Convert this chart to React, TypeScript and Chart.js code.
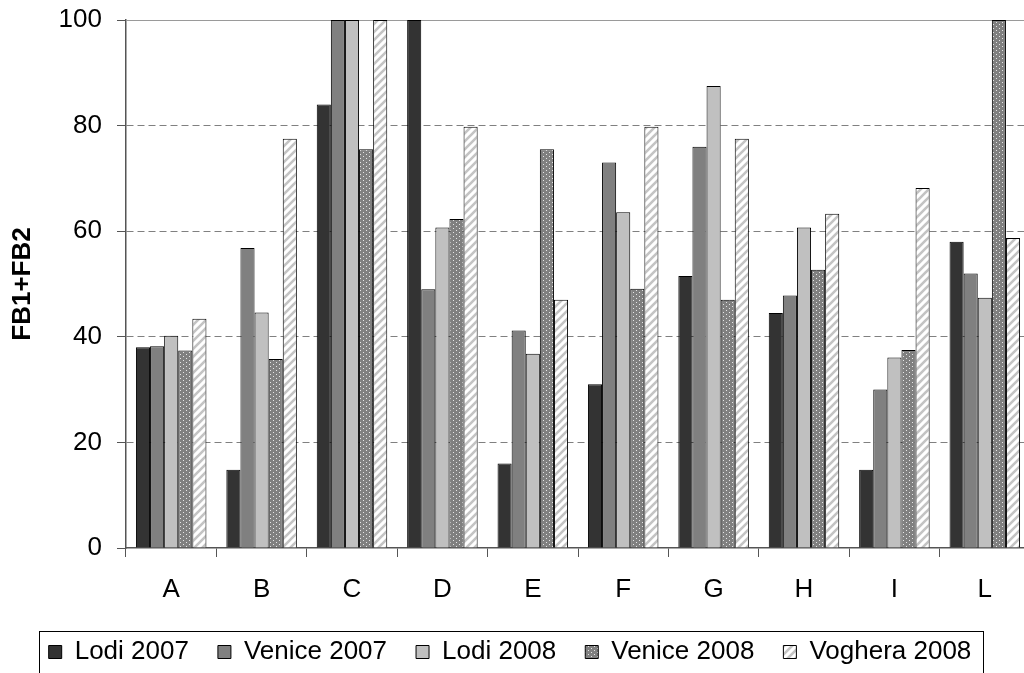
import React, { useEffect, useRef } from "react";
import { Chart, registerables } from "chart.js";

Chart.register(...registerables);

const categories = ["A", "B", "C", "D", "E", "F", "G", "H", "I", "L"];
const lodi2007 = [38, 14.8, 84, 100, 16, 31, 51.5, 44.5, 14.8, 58];
const venice2007 = [38.2, 56.8, 100, 49, 41.2, 73, 76, 47.8, 30, 52];
const lodi2008 = [40.2, 44.6, 100, 60.7, 36.8, 63.6, 87.5, 60.7, 36.1, 47.4];
const venice2008 = [37.4, 35.8, 75.5, 62.3, 75.5, 49.1, 47, 52.7, 37.5, 100];
const voghera2008 = [43.4, 77.5, 100, 79.8, 47, 79.8, 77.5, 63.3, 68.2, 58.7];
const seriesNames = ["Lodi 2007", "Venice 2007", "Lodi 2008", "Venice 2008", "Voghera 2008"];
const yMin = 0;
const yMax = 100;
const yStep = 20;
const yTitle = "FB1+FB2";

const FONT = "'Liberation Sans', Arial, sans-serif";

function dotPattern(ctx: CanvasRenderingContext2D) {
  const c = document.createElement("canvas");
  c.width = 6;
  c.height = 4;
  const g = c.getContext("2d")!;
  g.fillStyle = "#808080";
  g.fillRect(0, 0, 6, 4);
  g.fillStyle = "#e6e6e6";
  g.fillRect(1, 0, 1, 1);
  g.fillRect(4, 2, 1, 1);
  return ctx.createPattern(c, "repeat")!;
}

function hatchPattern(ctx: CanvasRenderingContext2D) {
  const c = document.createElement("canvas");
  c.width = 8;
  c.height = 8;
  const g = c.getContext("2d")!;
  g.fillStyle = "#ffffff";
  g.fillRect(0, 0, 8, 8);
  g.strokeStyle = "#c4c4c4";
  g.lineWidth = 2.6;
  g.beginPath();
  g.moveTo(-2, 10);
  g.lineTo(10, -2);
  g.moveTo(-6, 6);
  g.lineTo(6, -6);
  g.moveTo(2, 14);
  g.lineTo(14, 2);
  g.stroke();
  return ctx.createPattern(c, "repeat")!;
}

const legendBorder = {
  id: "legendBorder",
  afterDraw(chart: any) {
    const lg = chart.legend;
    if (!lg || !lg.legendHitBoxes || !lg.legendHitBoxes.length) return;
    const hb = lg.legendHitBoxes;
    const first = hb[0];
    const last = hb[hb.length - 1];
    const ctx = chart.ctx;
    const left = Math.round(first.left - 10) + 0.5;
    const right = Math.round(last.left + last.width + 12) + 0.5;
    const top = Math.round(first.top - 8) + 0.5;
    ctx.save();
    ctx.strokeStyle = "#000000";
    ctx.lineWidth = 1;
    ctx.strokeRect(left, top, right - left, 60);
    ctx.restore();
  },
};

const topLine = {
  id: "topLine",
  beforeDatasetsDraw(chart: any) {
    const { ctx, chartArea } = chart;
    ctx.save();
    ctx.strokeStyle = "#9a9a9a";
    ctx.lineWidth = 1;
    ctx.beginPath();
    ctx.moveTo(chartArea.left, Math.round(chartArea.top) + 0.5);
    ctx.lineTo(chartArea.right, Math.round(chartArea.top) + 0.5);
    ctx.stroke();
    ctx.restore();
  },
};

export default function App() {
  const ref = useRef<HTMLCanvasElement>(null);

  useEffect(() => {
    const canvas = ref.current!;
    const ctx = canvas.getContext("2d")!;
    const fills = ["#333333", "#808080", "#c0c0c0", dotPattern(ctx), hatchPattern(ctx)];
    const values = [lodi2007, venice2007, lodi2008, venice2008, voghera2008];

    const chart = new Chart(canvas, {
      type: "bar",
      data: {
        labels: categories,
        datasets: values.map((v, i) => ({
          label: seriesNames[i],
          data: v,
          backgroundColor: fills[i] as any,
          borderColor: "#000000",
          borderWidth: 1,
          categoryPercentage: 0.78,
          barPercentage: 1,
        })),
      },
      options: {
        responsive: false,
        animation: false,
        devicePixelRatio: 1,
        layout: { padding: { top: 20, right: 10, bottom: 0, left: 0 } },
        plugins: {
          tooltip: { enabled: false },
          legend: {
            position: "bottom",
            labels: {
              font: { family: FONT, size: 26 },
              color: "#000000",
              boxWidth: 13,
              boxHeight: 13,
              padding: 29,
            },
          },
        },
        scales: {
          x: {
            afterFit(scale: any) {
              scale.height = 62;
              scale.paddingLeft = 0;
              scale.paddingRight = 0;
            },
            grid: {
              offset: true,
              drawOnChartArea: false,
              drawTicks: true,
              tickLength: 9,
              tickColor: "#555555",
              tickWidth: 1,
            },
            border: { color: "#555555", width: 1.5 },
            ticks: {
              font: { family: FONT, size: 26 },
              color: "#000000",
              padding: 17,
              maxRotation: 0,
              autoSkip: false,
            },
          },
          y: {
            min: yMin,
            max: yMax,
            afterFit(scale: any) {
              scale.width = 136;
              scale.paddingTop = 0;
              scale.paddingBottom = 0;
            },
            grid: {
              color: (c: any) =>
                c.tick && (c.tick.value === yMin || c.tick.value === yMax) ? "rgba(0,0,0,0)" : "#808080",
              lineWidth: 1,
              tickLength: 9,
              tickColor: "#555555",
              tickWidth: 1,
            },
            border: { color: "#555555", width: 1.5, dash: [7, 4] },
            ticks: {
              stepSize: yStep,
              font: { family: FONT, size: 26 },
              color: "#000000",
              padding: 15,
            },
            title: {
              display: true,
              text: yTitle,
              font: { family: FONT, size: 26, weight: "bold" },
              color: "#000000",
              padding: { top: 17, bottom: 0 },
            },
          },
        },
      },
      plugins: [topLine, legendBorder],
    });
    return () => chart.destroy();
  }, []);

  return (
    <div
      style={{
        position: "fixed",
        left: 0,
        top: 0,
        width: 1024,
        height: 673,
        overflow: "hidden",
        background: "#ffffff",
      }}
    >
      <canvas
        ref={ref}
        width={1050}
        height={675}
        style={{ position: "absolute", left: -10, top: 0, width: 1050, height: 675 }}
      />
    </div>
  );
}
